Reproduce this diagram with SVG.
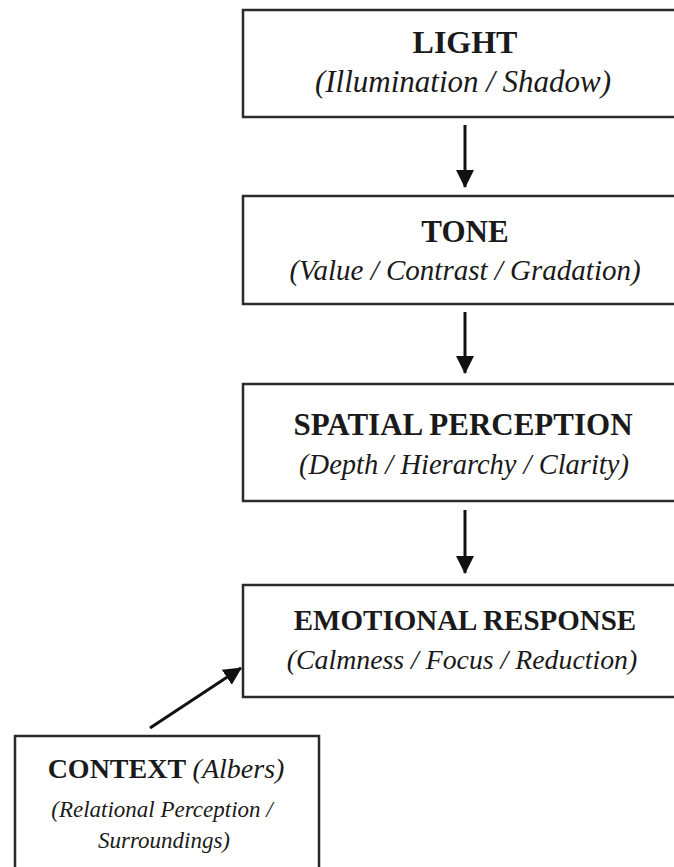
<svg xmlns="http://www.w3.org/2000/svg" width="674" height="867" viewBox="0 0 674 867">
<style>
.box{fill:#fff;stroke:#2a2a2a;stroke-width:2.5}
.t{font-family:"Liberation Serif","Times New Roman",serif;font-weight:bold;font-size:30px;fill:#1a1a1a;text-anchor:middle}
.s{font-family:"Liberation Serif","Times New Roman",serif;font-style:italic;font-size:28px;fill:#1a1a1a;text-anchor:middle}
.c{stroke:#111;stroke-width:3;fill:none}
</style>
<defs>
<marker id="ah" markerUnits="userSpaceOnUse" markerWidth="18" markerHeight="18" viewBox="0 0 18 18" refX="17" refY="9" orient="auto">
<path d="M0,0 L18,9 L0,18 Z" fill="#111"/>
</marker>
</defs>
<rect width="674" height="867" fill="#fff"/>
<g id="light">
<rect class="box" x="243" y="10" width="450" height="107"/>
<text class="t" x="465" y="53" style="font-size:32px">LIGHT</text>
<text class="s" x="463" y="92" style="font-size:31px">(Illumination / Shadow)</text>
</g>
<g id="tone">
<rect class="box" x="243" y="196" width="450" height="108"/>
<text class="t" x="465" y="242" style="font-size:31px">TONE</text>
<text class="s" x="465" y="280" style="font-size:29px">(Value / Contrast / Gradation)</text>
</g>
<g id="spatial">
<rect class="box" x="243" y="384" width="450" height="117"/>
<text class="t" x="463" y="435" style="font-size:31px">SPATIAL PERCEPTION</text>
<text class="s" x="464" y="474" style="font-size:28.5px">(Depth / Hierarchy / Clarity)</text>
</g>
<g id="emotional">
<rect class="box" x="243" y="585" width="450" height="112"/>
<text class="t" x="465" y="630" style="font-size:29px">EMOTIONAL RESPONSE</text>
<text class="s" x="462" y="669" style="font-size:27.8px">(Calmness / Focus / Reduction)</text>
</g>
<g id="context">
<rect class="box" x="15" y="736" width="304" height="150"/>
<text class="t" x="166" y="778" style="font-size:28px">CONTEXT <tspan style="font-weight:normal;font-style:italic">(Albers)</tspan></text>
<text class="s" x="162" y="817" style="font-size:23px">(Relational Perception /</text>
<text class="s" x="164" y="848" style="font-size:23px">Surroundings)</text>
</g>
<g id="connectors">
<line class="c" x1="465" y1="125" x2="465" y2="187" marker-end="url(#ah)"/>
<line class="c" x1="465" y1="312" x2="465" y2="373" marker-end="url(#ah)"/>
<line class="c" x1="465" y1="510" x2="465" y2="573" marker-end="url(#ah)"/>
<line class="c" x1="150" y1="728" x2="241" y2="668" marker-end="url(#ah)"/>
</g>
</svg>
